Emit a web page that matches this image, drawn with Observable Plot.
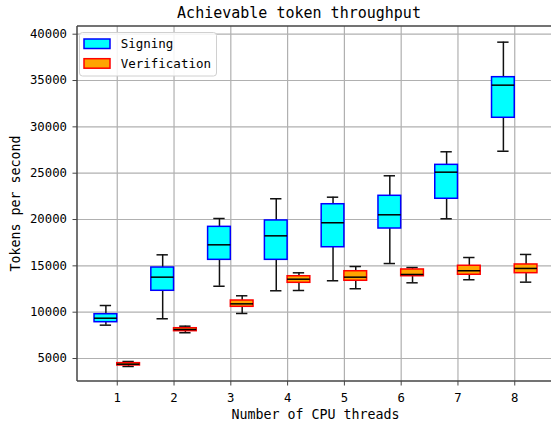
<!DOCTYPE html>
<html><head><meta charset="utf-8">
<script src="https://cdn.jsdelivr.net/npm/d3@7"></script>
<script src="https://cdn.jsdelivr.net/npm/@observablehq/plot@0.6"></script>
<style>
html,body{margin:0;padding:0;overflow:hidden;background:#fff;}
#chart{position:relative;width:551px;height:429px;overflow:hidden;}
#chart svg{max-width:none !important;}
</style></head><body><div id="chart"></div>
<script>
const threads = [1, 2, 3, 4, 5, 6, 7, 8];
const series = ["Signing", "Verification"];
const fills = ["#00ffff", "#ffa500"];
const edges = ["#0000ff", "#ff0000"];
const yTicks = [5000, 10000, 15000, 20000, 25000, 30000, 35000, 40000];

// Signing (tokens per second) — whisker low, Q1, median, Q3, whisker high
const sigLo  = [8600, 9290, 12800, 12310, 13390, 15250, 20080, 27370];
const sigQ1  = [8920, 12310, 15650, 15650, 17010, 19030, 22240, 30980];
const sigMed = [9350, 13780, 17270, 18240, 19650, 20510, 25110, 34500];
const sigQ3  = [9780, 14820, 19210, 19900, 21650, 22560, 25900, 35360];
const sigHi  = [10720, 16190, 20110, 22240, 22410, 24720, 27310, 39140];

// Verification
const verLo  = [4140, 7780, 9860, 12340, 12530, 13170, 13500, 13240];
const verQ1  = [4250, 7950, 10580, 13170, 13390, 13880, 14040, 14210];
const verMed = [4390, 8130, 10900, 13560, 13780, 14070, 14470, 14720];
const verQ3  = [4500, 8270, 11260, 13880, 14420, 14610, 15010, 15150];
const verHi  = [4680, 8490, 11770, 14250, 14930, 14820, 15900, 16230];

const xDomain = [0.3, 8.7];
const yDomain = [2520, 40830];

const rows = [];
threads.forEach((t, i) => {
  rows.push({t, s: series[0], off: -0.2, lo: sigLo[i], q1: sigQ1[i], med: sigMed[i], q3: sigQ3[i], hi: sigHi[i]});
  rows.push({t, s: series[1], off: 0.2, lo: verLo[i], q1: verQ1[i], med: verMed[i], q3: verQ3[i], hi: verHi[i]});
});
const pos = d => d.t + d.off;
const HB = 0.2, HC = 0.1;
const wk = {stroke: "#111", strokeWidth: 1.5};
const font = "'DejaVu Sans Mono', monospace";

const boxMarks = series.map((s, k) =>
  Plot.rect(rows.filter(d => d.s === s), {
    x1: d => pos(d) - HB, x2: d => pos(d) + HB, y1: "q1", y2: "q3",
    fill: fills[k], stroke: edges[k], strokeWidth: 1.5
  })
);

const chart = Plot.plot({
  width: 551, height: 429,
  marginLeft: 77, marginRight: 0, marginTop: 26, marginBottom: 48,
  style: {fontFamily: font, fontSize: "12.3px", color: "#000", background: "#fff", maxWidth: "none"},
  x: {domain: xDomain, range: [77, 554], axis: null},
  y: {domain: yDomain, axis: null},
  marks: [
    Plot.gridX(threads, {stroke: "#b0b0b0", strokeOpacity: 1, strokeWidth: 1.2}),
    Plot.gridY(yTicks, {stroke: "#b0b0b0", strokeOpacity: 1, strokeWidth: 1.2}),
    Plot.ruleX(rows, {x: pos, y1: "lo", y2: "q1", ...wk}),
    Plot.ruleX(rows, {x: pos, y1: "q3", y2: "hi", ...wk}),
    Plot.ruleY(rows, {y: "lo", x1: d => pos(d) - HC, x2: d => pos(d) + HC, ...wk}),
    Plot.ruleY(rows, {y: "hi", x1: d => pos(d) - HC, x2: d => pos(d) + HC, ...wk}),
    ...boxMarks,
    Plot.ruleY(rows, {y: "med", x1: d => pos(d) - HB, x2: d => pos(d) + HB, stroke: "#000", strokeWidth: 1.5}),
    Plot.axisX(threads, {tickSize: 4.5, tickPadding: 7, tickFormat: d => String(d), label: null, stroke: "#444"}),
    Plot.axisY(yTicks, {tickSize: 4.5, tickPadding: 6, tickFormat: d => String(d), label: null, stroke: "#444"})
  ]
});

const svg = d3.select(chart);
const xs = chart.scale("x"), ys = chart.scale("y");
const [xl, xr] = xs.range, [yb, yt] = ys.range;
const sp = svg.append("g").attr("stroke", "#444").attr("stroke-width", 1.5).attr("fill", "none");
sp.append("line").attr("x1", xl).attr("x2", xr).attr("y1", yt).attr("y2", yt);
sp.append("line").attr("x1", xl).attr("x2", xr).attr("y1", yb).attr("y2", yb);
sp.append("line").attr("x1", xl).attr("x2", xl).attr("y1", yt).attr("y2", yb);

svg.append("text").attr("x", 299).attr("y", 18.3).attr("text-anchor", "middle")
  .attr("font-size", "15px").attr("fill", "#000").text("Achievable token throughput");
svg.append("text").attr("x", 315.5).attr("y", 419).attr("text-anchor", "middle")
  .attr("font-size", "13.3px").attr("fill", "#000").text("Number of CPU threads");
svg.append("text").attr("transform", "translate(19.5,203.5) rotate(-90)").attr("text-anchor", "middle")
  .attr("font-size", "13.3px").attr("fill", "#000").text("Tokens per second");

const lg = svg.append("g").attr("text-anchor", "start");
lg.append("rect").attr("x", 79.5).attr("y", 32.5).attr("width", 137).attr("height", 43.5).attr("rx", 3)
  .attr("fill", "#fff").attr("fill-opacity", 0.85).attr("stroke", "#d0d0d0");
series.forEach((s, k) => {
  const y0 = 39 + k * 19.7;
  lg.append("rect").attr("x", 84).attr("y", y0).attr("width", 26).attr("height", 9.5)
    .attr("fill", fills[k]).attr("stroke", edges[k]).attr("stroke-width", 1.5);
  lg.append("text").attr("x", 120.7).attr("y", y0 + 9.2).attr("text-anchor", "start")
    .attr("font-size", "12.5px").attr("fill", "#000").text(s);
});

document.getElementById("chart").appendChild(chart);
</script>
</body></html>
